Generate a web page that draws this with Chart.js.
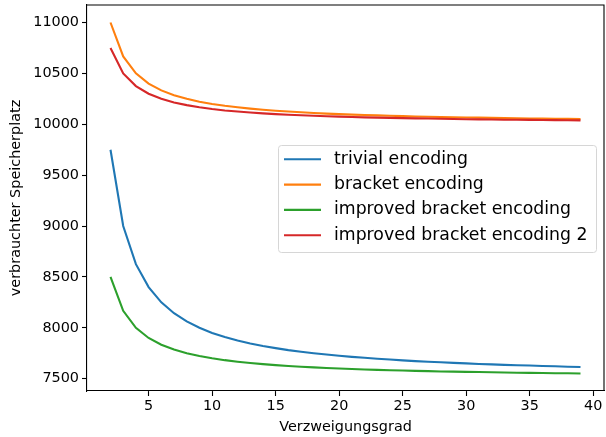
<!DOCTYPE html>
<html>
<head>
<meta charset="utf-8">
<script src="https://cdn.jsdelivr.net/npm/chart.js@4/dist/chart.umd.min.js"></script>
<style>
  html, body { margin: 0; padding: 0; background: #fff; }
  #wrap { width: 606px; height: 437px; }
</style>
</head>
<body>
<div id="wrap"><canvas id="speicher" width="606" height="437"></canvas></div>
<script>
// Verzweigungsgrad 2..39
const grad = [2, 3, 4, 5, 6, 7, 8, 9, 10, 11, 12, 13, 14, 15, 16, 17, 18, 19, 20,
  21, 22, 23, 24, 25, 26, 27, 28, 29, 30, 31, 32, 33, 34, 35, 36, 37, 38, 39];

const trivial = [9750, 9000, 8625, 8400, 8250, 8143, 8063, 8000, 7950, 7909, 7875, 7846,
  7821, 7800, 7781, 7765, 7750, 7737, 7725, 7714, 7705, 7696, 7688, 7680, 7673, 7667,
  7661, 7655, 7650, 7645, 7641, 7636, 7632, 7629, 7625, 7622, 7618, 7615];

const bracket = [11000, 10667, 10500, 10400, 10333, 10286, 10250, 10222, 10200, 10182,
  10167, 10154, 10143, 10133, 10125, 10118, 10111, 10105, 10100, 10095, 10091, 10087,
  10083, 10080, 10077, 10074, 10071, 10069, 10067, 10065, 10063, 10061, 10059, 10057,
  10056, 10054, 10053, 10051];

const improved = [8500, 8167, 8000, 7900, 7833, 7786, 7750, 7722, 7700, 7682, 7667, 7654,
  7643, 7633, 7625, 7618, 7611, 7605, 7600, 7595, 7591, 7587, 7583, 7580, 7577, 7574,
  7571, 7569, 7567, 7565, 7563, 7561, 7559, 7557, 7556, 7554, 7553, 7551];

const improved2 = [10750, 10500, 10375, 10300, 10250, 10214, 10188, 10167, 10150, 10136,
  10125, 10115, 10107, 10100, 10094, 10088, 10083, 10079, 10075, 10071, 10068, 10065,
  10063, 10060, 10058, 10056, 10054, 10052, 10050, 10048, 10047, 10045, 10044, 10043,
  10042, 10041, 10039, 10038];

const labels = ['trivial encoding', 'bracket encoding', 'improved bracket encoding', 'improved bracket encoding 2'];
const series = [trivial, bracket, improved, improved2];
const colors = ['#1f77b4', '#ff7f0e', '#2ca02c', '#d62728'];

const xTicks = [5, 10, 15, 20, 25, 30, 35, 40];
const yTicks = [7500, 8000, 8500, 9000, 9500, 10000, 10500, 11000];

const FONT = 'DejaVu Sans';
const AXFONT = { family: FONT, size: 14.4 };

const datasets = series.map((vals, i) => ({
  label: labels[i],
  data: vals.map((v, k) => ({ x: grad[k], y: v })),
  borderColor: colors[i],
  borderWidth: 2.1,
  pointRadius: 0,
  fill: false,
  tension: 0,
  order: series.length - i   // later series on top
}));

// no extra room for the outer tick labels, the plot box is fixed
const noEdgePad = (scale) => {
  scale.paddingTop = 0;
  scale.paddingBottom = 0;
  scale.paddingLeft = 0;
  scale.paddingRight = 0;
};

// top + right spine
const frame = {
  id: 'frame',
  afterDatasetsDraw(chart) {
    const { ctx, chartArea: a } = chart;
    ctx.save();
    ctx.strokeStyle = '#000';
    ctx.lineWidth = 1.1;
    ctx.beginPath();
    ctx.moveTo(a.left, a.top);
    ctx.lineTo(a.right, a.top);
    ctx.lineTo(a.right, a.bottom);
    ctx.stroke();
    ctx.restore();
  }
};

// legend box in the middle right
const boxLegend = {
  id: 'boxLegend',
  afterDraw(chart) {
    const ctx = chart.ctx;
    const x0 = 278, y0 = 145, w = 318, h = 107, r = 3;
    ctx.save();
    ctx.fillStyle = 'rgba(255,255,255,0.8)';
    ctx.strokeStyle = '#d6d6d6';
    ctx.lineWidth = 1;
    ctx.beginPath();
    ctx.roundRect(x0 + 0.5, y0 + 0.5, w, h, r);
    ctx.fill();
    ctx.stroke();
    ctx.font = '17.3px "' + FONT + '"';
    ctx.textBaseline = 'middle';
    ctx.fillStyle = '#000';
    chart.data.datasets.forEach((ds, i) => {
      const y = 159.3 + i * 25.3;
      ctx.strokeStyle = ds.borderColor;
      ctx.lineWidth = 2.1;
      ctx.beginPath();
      ctx.moveTo(284, y);
      ctx.lineTo(321, y);
      ctx.stroke();
      ctx.fillText(ds.label, 334, y);
    });
    ctx.restore();
  }
};

new Chart(document.getElementById('speicher'), {
  type: 'line',
  data: { datasets },
  options: {
    responsive: false,
    animation: false,
    devicePixelRatio: 1,
    layout: { padding: { top: 5, right: 2, left: 0, bottom: 0 } },
    plugins: {
      legend: { display: false },
      tooltip: { enabled: false }
    },
    scales: {
      x: {
        type: 'linear',
        min: 0.15,
        max: 40.85,
        afterBuildTicks: (scale) => { scale.ticks = xTicks.map(v => ({ value: v })); },
        afterFit: (scale) => { scale.height = 46; noEdgePad(scale); },
        grid: { drawOnChartArea: false, drawTicks: true, tickLength: 5, tickColor: '#000', tickWidth: 1.1 },
        border: { display: true, color: '#000', width: 1.1 },
        ticks: { color: '#000', font: AXFONT, padding: 2, maxRotation: 0, callback: (v) => String(v) },
        title: {
          display: true, text: 'Verzweigungsgrad', color: '#000',
          font: AXFONT, padding: { top: 0, bottom: 1 }
        }
      },
      y: {
        min: 7379,
        max: 11172,
        afterBuildTicks: (scale) => { scale.ticks = yTicks.map(v => ({ value: v })); },
        afterFit: (scale) => { scale.width = 87; noEdgePad(scale); },
        grid: { drawOnChartArea: false, drawTicks: true, tickLength: 5, tickColor: '#000', tickWidth: 1.1 },
        border: { display: true, color: '#000', width: 1.1 },
        ticks: { color: '#000', font: AXFONT, padding: 3, callback: (v) => String(v) },
        title: {
          display: true, text: 'verbrauchter Speicherplatz', color: '#000',
          font: AXFONT, padding: { top: 8, bottom: 0 }
        }
      }
    }
  },
  plugins: [frame, boxLegend]
});
</script>
</body>
</html>
